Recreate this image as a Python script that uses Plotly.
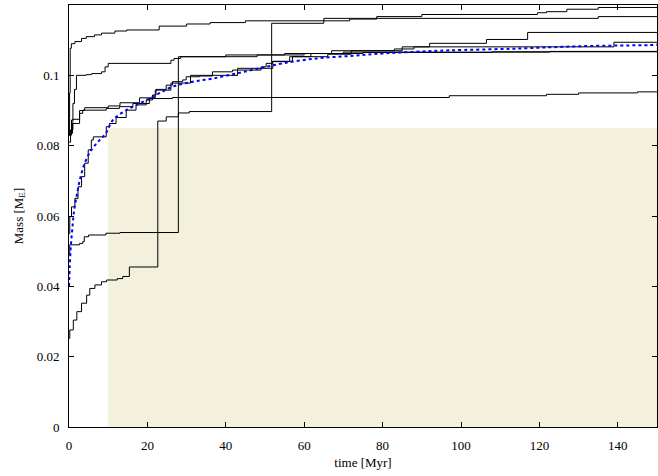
import plotly.graph_objects as go

# ---- data (time in Myr, mass in Earth masses) ----
t_A = [0, 0.15, 0.3, 0.6, 1.5, 3.2, 4.4, 6.5, 8.3, 11.7, 14.7, 23, 30, 36, 45, 65, 135, 150]
m_A = [0.083, 0.095, 0.1077, 0.109, 0.1096, 0.1105, 0.111, 0.1115, 0.112, 0.1126, 0.1129, 0.114, 0.1146, 0.115, 0.1155, 0.1162, 0.1167, 0.1167]

t_B = [0, 0.2, 1.1, 2, 3.2, 4.5, 5.3, 6.6, 8.3, 9.6, 12.3, 13.7, 15.4, 22.65, 24.8, 27.9, 30.7, 51.7, 65, 71.6, 78.5, 90, 119.5, 121.8, 127, 135, 150]
m_B = [0.0252, 0.0276, 0.0304, 0.0328, 0.0352, 0.0375, 0.0394, 0.0404, 0.0413, 0.0418, 0.0422, 0.0428, 0.0455, 0.087, 0.0882, 0.0893, 0.0897, 0.1148, 0.1155, 0.116, 0.1167, 0.1173, 0.1178, 0.1181, 0.1188, 0.1193, 0.1193]

t_C = [0, 0.2, 2.7, 3.5, 3.9, 5.0, 9.4, 13, 27.9, 40, 55, 75, 108, 150]
m_C = [0.049, 0.0518, 0.0522, 0.0527, 0.0541, 0.0546, 0.0551, 0.0553, 0.1053, 0.1058, 0.1062, 0.1065, 0.1067, 0.1067]

t_D = [0, 0.2, 0.64, 1.5, 2.3, 3.2, 4.0, 4.9, 5.7, 6.2, 9.5, 10.3, 12, 14.6, 17.1, 19.7, 21.3, 22.2, 24.8, 26.4, 29, 29.9, 33.3, 36.6, 41.7, 49, 50.3, 51.9, 56.3, 61.7, 67, 83, 88, 92, 106.5, 117, 150]
m_D = [0.055, 0.0598, 0.0626, 0.065, 0.0683, 0.0712, 0.075, 0.0788, 0.0816, 0.0825, 0.0854, 0.0863, 0.088, 0.0901, 0.0916, 0.093, 0.0944, 0.096, 0.0972, 0.0982, 0.0987, 0.0996, 0.0998, 0.101, 0.1015, 0.1024, 0.1034, 0.1039, 0.1053, 0.1062, 0.107, 0.1075, 0.1081, 0.1091, 0.1102, 0.1122, 0.1122]

t_E = [0, 0.9, 2.7, 3.5, 9.5, 12.9, 16.3, 20.5, 26.4, 97, 121.8, 130, 145, 150]
m_E = [0.0835, 0.0863, 0.0892, 0.0901, 0.0906, 0.0911, 0.092, 0.0934, 0.0937, 0.0942, 0.0946, 0.095, 0.0953, 0.0953]

t_F = [0, 0.64, 1.0, 1.4, 1.9, 4.4, 5.8, 8.3, 9.2, 10, 26, 26.8, 28.5, 48, 60, 70, 122.6, 150]
m_F = [0.083, 0.0873, 0.092, 0.096, 0.1, 0.1002, 0.1005, 0.101, 0.1024, 0.1034, 0.1043, 0.1048, 0.1053, 0.1058, 0.1062, 0.1066, 0.1068, 0.1068]

t_G = [0, 0.4, 1.0, 2.7, 4.0, 10, 13, 18, 22, 26, 31, 43, 52, 57, 66, 72, 85, 139, 150]
m_G = [0.081, 0.0845, 0.0875, 0.09, 0.0908, 0.0913, 0.0922, 0.0936, 0.0958, 0.0978, 0.1, 0.102, 0.104, 0.1053, 0.106, 0.107, 0.1081, 0.1094, 0.1094]

t_mean = [0, 0.2, 0.46, 0.82, 1.22, 1.91, 2.75, 4.0, 5.7, 7.8, 9.4, 11.2, 14.6, 18, 22.2, 26.5, 31.6, 36.7, 42.6, 48.6, 54.5, 63.1, 71.6, 80, 88.6, 97, 114, 131, 148, 150]
m_mean = [0.04, 0.0456, 0.0513, 0.056, 0.0608, 0.0655, 0.0702, 0.075, 0.0788, 0.0816, 0.0835, 0.0873, 0.0901, 0.092, 0.0944, 0.0968, 0.0982, 0.0991, 0.1005, 0.102, 0.1034, 0.1048, 0.1055, 0.1062, 0.1067, 0.1071, 0.1076, 0.1083, 0.1086, 0.1087]

zone_t_start = 10
zone_t_end = 150
zone_m_max = 0.085

x_ticks = [0, 20, 40, 60, 80, 100, 120, 140]
y_ticks = [0, 0.02, 0.04, 0.06, 0.08, 0.1, 0.12]
y_tick_text = ["0", "0.02", "0.04", "0.06", "0.08", "0.1", "0.12"]

FONT = "'Liberation Serif', 'Times New Roman', 'DejaVu Serif', serif"

fig = go.Figure()

for t, m in [(t_A, m_A), (t_B, m_B), (t_C, m_C), (t_D, m_D), (t_E, m_E), (t_F, m_F), (t_G, m_G)]:
    fig.add_trace(go.Scatter(x=t, y=m, mode="lines", line=dict(color="black", width=1, shape="hv"),
                             showlegend=False, hoverinfo="skip"))

fig.add_trace(go.Scatter(x=t_mean, y=m_mean, mode="lines",
                         line=dict(color="#0000ff", width=2, dash="dot", shape="spline"),
                         showlegend=False, hoverinfo="skip"))

fig.add_shape(type="rect", xref="x", yref="y", x0=zone_t_start, x1=zone_t_end, y0=0, y1=zone_m_max,
              fillcolor="#f3f1db", line=dict(width=0), layer="below")

axis_common = dict(showgrid=False, zeroline=False, showline=True, linecolor="black", linewidth=1,
                   mirror="ticks", ticks="inside", ticklen=5, tickcolor="black", tickwidth=1,
                   tickfont=dict(family=FONT, size=13, color="black"))

fig.update_xaxes(range=[0, 150], tickvals=x_ticks, ticklabelstandoff=6,
                 title=dict(text="time [Myr]", font=dict(family=FONT, size=13, color="black"), standoff=6),
                 **axis_common)
fig.update_yaxes(range=[0, 0.12], tickvals=y_ticks, ticktext=y_tick_text, ticklabelstandoff=6,
                 title=dict(text="Mass [M<sub>E</sub>]", font=dict(family=FONT, size=13, color="black"), standoff=10),
                 **axis_common)

fig.update_layout(width=658, height=476, margin=dict(l=69, r=1, t=5, b=49),
                  paper_bgcolor="white", plot_bgcolor="white",
                  font=dict(family=FONT, size=13, color="black"))

fig.write_html("out.html")
